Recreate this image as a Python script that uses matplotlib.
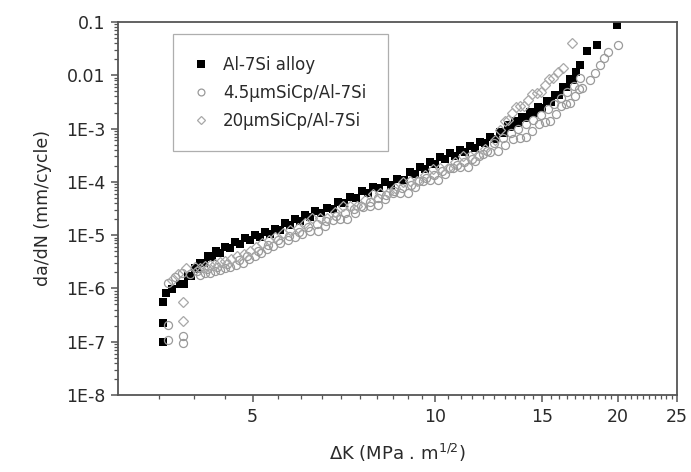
import matplotlib.pyplot as plt
from matplotlib.ticker import FixedLocator, LogLocator, NullFormatter

plt.switch_backend("AGG")
plt.rcParams["font.family"] = ["DejaVu Sans"]

# Al-7Si alloy (black squares)
ALLOY_DK = [
    3.56, 3.56, 3.56, 3.60, 3.68, 3.80, 3.85, 3.91, 3.96, 4.02, 4.05, 4.09, 4.15, 4.22, 4.28,
    4.35, 4.42, 4.50, 4.59, 4.68, 4.77, 4.86, 4.95, 5.05, 5.14, 5.24, 5.34, 5.44, 5.54, 5.65,
    5.76, 5.87, 5.98, 6.10, 6.21, 6.33, 6.48, 6.63, 6.77, 6.91, 7.07, 7.23, 7.40, 7.57, 7.73,
    7.89, 8.07, 8.26, 8.45, 8.65, 8.86, 9.08, 9.25, 9.43, 9.61, 9.80, 9.99, 10.18, 10.37, 10.57,
    10.77, 10.98, 11.19, 11.41, 11.63, 11.85, 12.08, 12.31, 12.54, 12.78, 12.97, 13.17, 13.34,
    13.52, 13.70, 13.89, 14.10, 14.31, 14.53, 14.75, 15.01, 15.27, 15.50, 15.74, 15.98, 16.23,
    16.44, 16.66, 16.85, 17.05, 17.30, 17.77, 18.46, 19.91,
]
ALLOY_RATE = [
    9.9e-8, 2.25e-7, 5.6e-7, 8.2e-7, 9.8e-7, 1.21e-6, 1.21e-6, 1.72e-6, 1.71e-6, 2.42e-6, 2.27e-6,
    3.01e-6, 2.94e-6, 4.07e-6, 3.81e-6, 5.06e-6, 4.63e-6, 6.01e-6, 5.62e-6, 7.45e-6, 6.82e-6,
    8.86e-6, 7.95e-6, 1.01e-5, 9.04e-6, 1.15e-5, 1.03e-5, 1.31e-5, 1.25e-5, 1.70e-5, 1.55e-5,
    2.01e-5, 1.84e-5, 2.39e-5, 2.19e-5, 2.85e-5, 2.55e-5, 3.24e-5, 3.10e-5, 4.20e-5, 3.93e-5,
    5.21e-5, 4.98e-5, 6.75e-5, 6.18e-5, 8.02e-5, 7.51e-5, 9.96e-5, 8.91e-5, 1.13e-4, 1.10e-4,
    1.53e-4, 1.43e-4, 1.90e-4, 1.78e-4, 2.36e-4, 2.21e-4, 2.93e-4, 2.68e-4, 3.48e-4, 3.12e-4,
    3.97e-4, 3.64e-4, 4.72e-4, 4.32e-4, 5.61e-4, 5.25e-4, 6.95e-4, 6.49e-4, 8.6e-4, 8.43e-4,
    1.17e-3, 1.07e-3, 1.39e-3, 1.27e-3, 1.65e-3, 1.55e-3, 2.05e-3, 1.92e-3, 2.54e-3, 2.43e-3,
    3.30e-3, 3.15e-3, 4.27e-3, 4.26e-3, 6.03e-3, 6.02e-3, 8.53e-3, 8.3e-3, 1.15e-2, 1.56e-2,
    2.86e-2, 3.70e-2, 8.78e-2,
]

# 4.5 um SiCp/Al-7Si (grey circles)
FINE_DK = [
    3.63, 3.63, 3.84, 3.84, 3.63, 3.72, 3.83, 3.94, 4.09, 4.17, 4.25, 4.33, 4.42, 4.50, 4.59,
    4.70, 4.82, 4.93, 5.05, 5.16, 5.28, 5.41, 5.55, 5.71, 5.87, 6.04, 6.22, 6.40, 6.58, 6.77,
    6.96, 7.16, 7.37, 7.59, 7.81, 8.03, 8.26, 8.50, 8.75, 9.00, 9.26, 9.53, 9.80, 10.08, 10.37,
    10.67, 10.98, 11.30, 11.63, 11.97, 12.31, 12.66, 13.02, 13.40, 13.78, 14.10, 14.43, 14.79,
    15.15, 15.47, 15.80, 16.10, 16.41, 16.69, 16.98, 17.21, 17.44, 17.98, 18.32, 18.67, 18.95,
    19.24, 19.99,
    4.05, 4.21, 4.37, 4.54, 4.74, 4.90, 5.10, 5.30, 5.50, 5.73, 5.95, 6.16, 6.38, 6.60, 6.86,
    7.10, 7.33, 7.55, 7.80, 8.05, 8.30, 8.55, 8.82, 9.10, 9.38, 9.66, 9.95, 10.25, 10.55, 10.85,
    11.16, 11.48, 11.80, 12.14, 12.50, 12.90, 13.30, 13.70, 14.10, 14.50, 14.90, 15.30, 15.70,
    16.10, 16.50, 16.90, 17.30,
]
FINE_RATE = [
    1.08e-7, 2.07e-7, 1.3e-7, 9.5e-8, 1.27e-6, 1.65e-6, 1.95e-6, 1.9e-6, 1.8e-6, 1.95e-6,
    1.95e-6, 2.1e-6, 2.25e-6, 2.4e-6, 2.5e-6, 2.75e-6, 3.05e-6, 3.5e-6, 4.0e-6, 4.6e-6,
    5.4e-6, 6.3e-6, 7.0e-6, 8.0e-6, 9.4e-6, 1.05e-5, 1.20e-5, 1.19e-5, 1.49e-5, 1.94e-5,
    2.01e-5, 2.04e-5, 2.61e-5, 3.40e-5, 3.53e-5, 3.66e-5, 4.78e-5, 6.09e-5, 6.19e-5, 6.27e-5,
    8.02e-5, 1.05e-4, 1.09e-4, 1.10e-4, 1.41e-4, 1.83e-4, 1.90e-4, 1.93e-4, 2.47e-4, 3.36e-4,
    3.64e-4, 3.77e-4, 4.92e-4, 6.42e-4, 6.67e-4, 6.9e-4, 9.0e-4, 1.23e-3, 1.33e-3, 1.41e-3,
    1.88e-3, 2.61e-3, 2.90e-3, 3.06e-3, 4.09e-3, 5.44e-3, 5.78e-3, 8.2e-3, 1.10e-2, 1.56e-2,
    2.11e-2, 2.74e-2, 3.7e-2,
    2.1e-6, 2.3e-6, 2.5e-6, 2.9e-6, 3.4e-6, 4.0e-6, 5.0e-6, 6.5e-6, 8.0e-6, 9.5e-6, 1.15e-5,
    1.4e-5, 1.61e-5, 1.84e-5, 2.25e-5, 2.63e-5, 3.1e-5, 3.55e-5, 4.2e-5, 4.9e-5, 5.7e-5, 6.7e-5,
    7.65e-5, 8.8e-5, 1.02e-4, 1.19e-4, 1.34e-4, 1.57e-4, 1.83e-4, 2.1e-4, 2.34e-4, 2.67e-4,
    3.09e-4, 3.8e-4, 5.3e-4, 6.6e-4, 8.3e-4, 1.0e-3, 1.2e-3, 1.45e-3, 1.8e-3, 2.3e-3, 2.9e-3,
    3.7e-3, 4.8e-3, 6.2e-3, 9.0e-3,
]

# 20 um SiCp/Al-7Si (grey diamonds)
COARSE_DK = [
    3.84, 3.84, 3.68, 3.77, 3.88, 4.02, 4.09, 4.17, 4.25, 4.33, 4.41, 4.50, 4.60, 4.71, 4.83,
    4.95, 5.06, 5.18, 5.31, 5.44, 5.60, 5.76, 5.93, 6.10, 6.27, 6.45, 6.64, 6.83, 7.03, 7.23,
    7.44, 7.65, 7.88, 8.11, 8.34, 8.58, 8.83, 9.08, 9.34, 9.61, 9.89, 10.18, 10.48, 10.78, 11.09,
    11.41, 11.74, 12.07, 12.54, 12.78, 13.02, 13.19, 13.37, 13.57, 13.78, 13.99, 14.21, 14.45,
    14.70, 14.92, 15.15, 15.38, 15.62, 15.92, 16.23, 16.79,
]
COARSE_RATE = [
    2.45e-7, 5.6e-7, 1.44e-6, 1.87e-6, 2.42e-6, 2.5e-6, 2.45e-6, 2.6e-6, 2.75e-6, 2.9e-6,
    3.1e-6, 3.3e-6, 3.6e-6, 4.0e-6, 4.5e-6, 5.1e-6, 6.0e-6, 7.0e-6, 8.0e-6, 9.2e-6,
    1.08e-5, 1.25e-5, 1.35e-5, 1.70e-5, 2.12e-5, 2.10e-5, 2.13e-5, 2.72e-5, 3.47e-5, 3.53e-5,
    3.58e-5, 4.57e-5, 5.96e-5, 6.19e-5, 6.14e-5, 7.69e-5, 1.0e-4, 1.04e-4, 1.05e-4, 1.35e-4,
    1.76e-4, 1.82e-4, 1.84e-4, 2.36e-4, 3.01e-4, 3.06e-4, 3.17e-4, 4.14e-4, 6.1e-4, 9.4e-4,
    1.39e-3, 1.47e-3, 1.96e-3, 2.55e-3, 2.65e-3, 2.69e-3, 3.44e-3, 4.49e-3, 4.66e-3, 4.93e-3,
    6.58e-3, 8.57e-3, 8.9e-3, 1.15e-2, 1.37e-2, 4.04e-2,
]

X_TICKS = [5, 10, 15, 20, 25]
X_MINOR = [v / 2 for v in range(7, 50) if v % 10 != 0]
Y_TICKS = [1e-8, 1e-7, 1e-6, 1e-5, 1e-4, 1e-3, 1e-2, 1e-1]
Y_LABELS = ["1E-8", "1E-7", "1E-6", "1E-5", "1E-4", "1E-3", "0.01", "0.1"]

TEXT_COLOR = "#2a2a2a"
AXIS_COLOR = "#555555"

fig = plt.figure(figsize=(6.91, 4.72), dpi=100)
ax = fig.add_axes([118 / 691, 77 / 472, 559 / 691, 373 / 472])

ax.plot(ALLOY_DK, ALLOY_RATE, "s", color="black", markersize=6.2, markeredgewidth=0,
        label="Al-7Si alloy")
ax.plot(FINE_DK, FINE_RATE, "o", markerfacecolor="none", markeredgecolor="#9a9a9a",
        markersize=5.8, markeredgewidth=0.9, label="4.5\u03bcmSiCp/Al-7Si")
ax.plot(COARSE_DK, COARSE_RATE, "D", markerfacecolor="none", markeredgecolor="#a8a8a8",
        markersize=5.2, markeredgewidth=0.9, label="20\u03bcmSiCp/Al-7Si")

ax.set_xscale("log")
ax.set_yscale("log")
ax.set_xlim(3, 25)
ax.set_ylim(1e-8, 0.1)

ax.xaxis.set_major_locator(FixedLocator(X_TICKS))
ax.xaxis.set_minor_locator(FixedLocator(X_MINOR))
ax.xaxis.set_minor_formatter(NullFormatter())
ax.set_xticklabels([str(v) for v in X_TICKS])
ax.yaxis.set_major_locator(FixedLocator(Y_TICKS))
ax.yaxis.set_minor_locator(LogLocator(base=10, subs=range(2, 10), numticks=20))
ax.yaxis.set_minor_formatter(NullFormatter())
ax.set_yticklabels(Y_LABELS)

for spine in ax.spines.values():
    spine.set_color(AXIS_COLOR)
    spine.set_linewidth(1.3)
ax.tick_params(which="major", direction="out", length=5, width=1.1, colors=AXIS_COLOR,
               labelcolor=TEXT_COLOR, labelsize=12.5, pad=4)
ax.tick_params(which="minor", direction="out", length=3, width=0.9, colors=AXIS_COLOR)

ax.set_xlabel("\u0394K (MPa . m$^{1/2}$)", fontsize=13, color=TEXT_COLOR, labelpad=12)
ax.set_ylabel("da/dN (mm/cycle)", fontsize=12.5, color=TEXT_COLOR, labelpad=10)

leg = ax.legend(loc="upper left", bbox_to_anchor=(0.098, 0.968), borderaxespad=0,
                fontsize=12, frameon=True, fancybox=False, handlelength=0.8,
                handletextpad=0.9, borderpad=1.3, labelspacing=0.6, markerscale=0.85)
leg.get_frame().set_edgecolor("#9a9a9a")
leg.get_frame().set_linewidth(0.9)
for t in leg.get_texts():
    t.set_color(TEXT_COLOR)

fig.savefig("out.png", dpi=100)
